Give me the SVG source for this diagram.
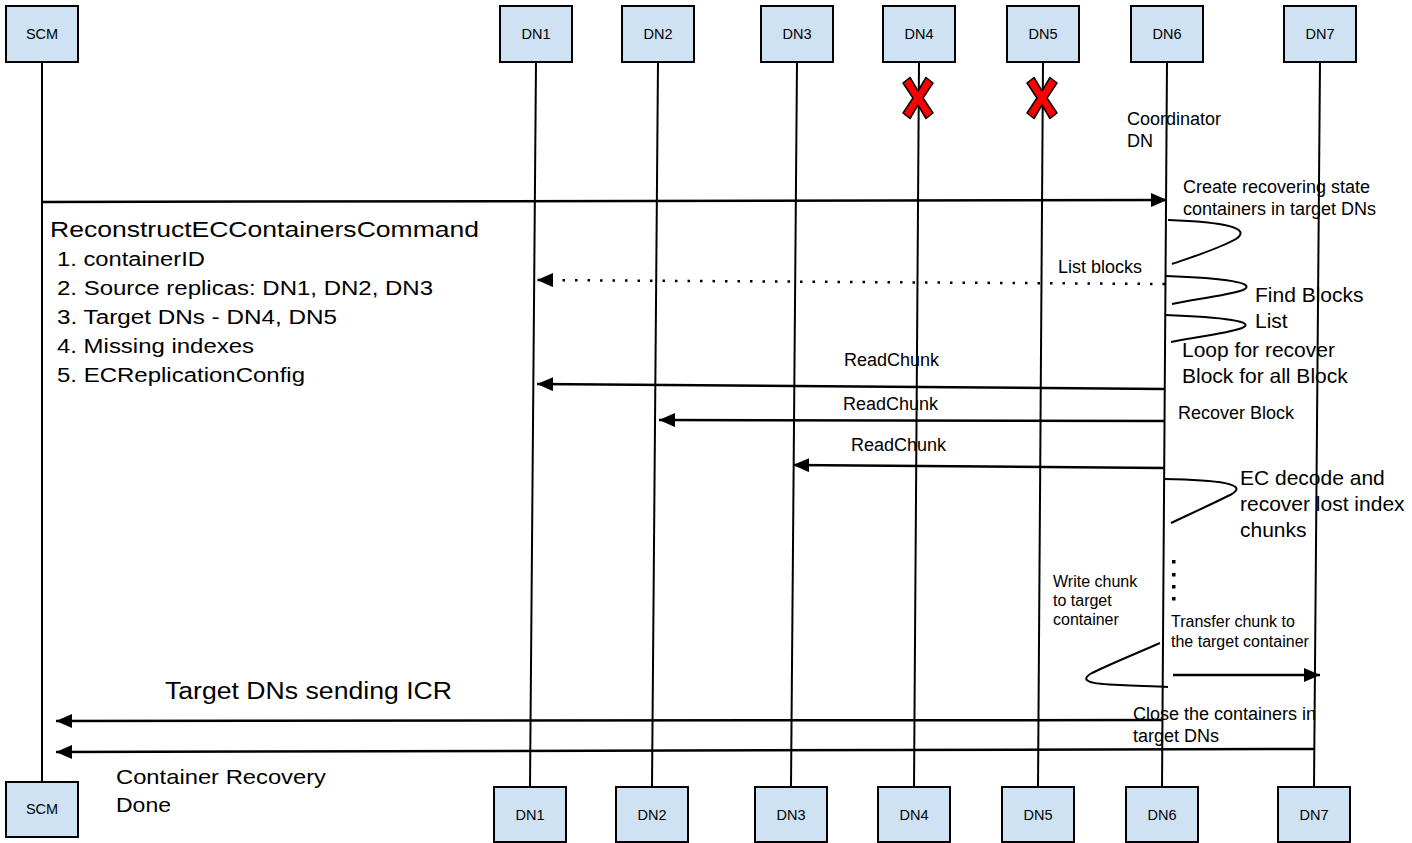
<svg xmlns="http://www.w3.org/2000/svg" width="1412" height="843" viewBox="0 0 1412 843">
  <style>
    .box { fill: #cfe2f3; stroke: #000; stroke-width: 2; }
    .life { stroke: #000; stroke-width: 2; fill: none; }
    .name { font-family: "Liberation Sans", Arial, sans-serif; font-size: 14.5px; fill: #000; text-anchor: middle; }
    .msg { stroke: #000; stroke-width: 2.5; fill: none; marker-end: url(#ah); }
    .dot { stroke-dasharray: 2.5 10; }
    .loop { stroke: #000; stroke-width: 2; fill: none; }
    .t { font-family: "Liberation Sans", Arial, sans-serif; fill: #000; }
    .s16 { font-size: 16px; }
    .s18 { font-size: 18px; }
    .s21 { font-size: 21px; }
    .cross { fill: #ff0000; stroke: #000; stroke-width: 1.5; stroke-linejoin: round; }
  </style>
  <defs>
    <marker id="ah" viewBox="0 0 16 14" refX="16" refY="7" markerWidth="16" markerHeight="14" markerUnits="userSpaceOnUse" orient="auto">
      <path d="M0,0 L16,7 L0,14 z" fill="#000"/>
    </marker>
    <polygon id="xmark" class="cross" points="-15,-15 -8,-20.5 0,-7 8,-20.5 15,-15 5,0 15,15 8,20.5 0,7 -8,20.5 -15,15 -5,0"/>
  </defs>

  <rect width="1412" height="843" fill="#fff"/>

  <!-- participants: head box, lifeline, foot box -->
  <g id="scm">
    <line class="life" x1="42" y1="62" x2="42" y2="782"/>
    <rect class="box" x="6" y="6" width="72" height="56"/>
    <text class="name" x="42" y="39">SCM</text>
    <rect class="box" x="6" y="782" width="72" height="55"/>
    <text class="name" x="42" y="814">SCM</text>
  </g>
  <g id="dn1">
    <line class="life" x1="536" y1="62" x2="530" y2="787"/>
    <rect class="box" x="500" y="6" width="72" height="56"/>
    <text class="name" x="536" y="39">DN1</text>
    <rect class="box" x="494" y="787" width="72" height="55"/>
    <text class="name" x="530" y="820">DN1</text>
  </g>
  <g id="dn2">
    <line class="life" x1="658" y1="62" x2="652" y2="787"/>
    <rect class="box" x="622" y="6" width="72" height="56"/>
    <text class="name" x="658" y="39">DN2</text>
    <rect class="box" x="616" y="787" width="72" height="55"/>
    <text class="name" x="652" y="820">DN2</text>
  </g>
  <g id="dn3">
    <line class="life" x1="797" y1="62" x2="791" y2="787"/>
    <rect class="box" x="761" y="6" width="72" height="56"/>
    <text class="name" x="797" y="39">DN3</text>
    <rect class="box" x="755" y="787" width="72" height="55"/>
    <text class="name" x="791" y="820">DN3</text>
  </g>
  <g id="dn4">
    <line class="life" x1="919" y1="62" x2="914" y2="787"/>
    <rect class="box" x="883" y="6" width="72" height="56"/>
    <text class="name" x="919" y="39">DN4</text>
    <use href="#xmark" x="918" y="98"/>
    <rect class="box" x="878" y="787" width="72" height="55"/>
    <text class="name" x="914" y="820">DN4</text>
  </g>
  <g id="dn5">
    <line class="life" x1="1043" y1="62" x2="1038" y2="787"/>
    <rect class="box" x="1007" y="6" width="72" height="56"/>
    <text class="name" x="1043" y="39">DN5</text>
    <use href="#xmark" x="1042" y="98"/>
    <rect class="box" x="1002" y="787" width="72" height="55"/>
    <text class="name" x="1038" y="820">DN5</text>
  </g>
  <g id="dn6">
    <line class="life" x1="1167" y1="62" x2="1162" y2="787"/>
    <rect class="box" x="1131" y="6" width="72" height="56"/>
    <text class="name" x="1167" y="39">DN6</text>
    <rect class="box" x="1126" y="787" width="72" height="55"/>
    <text class="name" x="1162" y="820">DN6</text>
  </g>
  <g id="dn7">
    <line class="life" x1="1320" y1="62" x2="1314" y2="787"/>
    <rect class="box" x="1284" y="6" width="72" height="56"/>
    <text class="name" x="1320" y="39">DN7</text>
    <rect class="box" x="1278" y="787" width="72" height="55"/>
    <text class="name" x="1314" y="820">DN7</text>
  </g>

  <!-- messages and self-calls -->
  <g id="connectors">
    <line class="msg" x1="42" y1="202" x2="1167" y2="200"/>
    <line class="msg dot" x1="1165" y1="284" x2="537" y2="280"/>
    <line class="msg" x1="1164" y1="389" x2="537" y2="384"/>
    <line class="msg" x1="1164" y1="421" x2="659" y2="420"/>
    <line class="msg" x1="1164" y1="468" x2="793" y2="465"/>
    <line class="msg" x1="1173" y1="675" x2="1320" y2="675"/>
    <line class="msg" x1="1163" y1="720" x2="56" y2="721"/>
    <line class="msg" x1="1315" y1="749" x2="56" y2="752"/>

    <path class="loop" d="M1168,220 C1225,222 1252,228 1236,239 C1218,249 1195,256 1172,264"/>
    <path class="loop" d="M1166,276 C1225,278 1258,283 1243,290 C1225,296 1195,299 1172,304"/>
    <path class="loop" d="M1165,315 C1225,317 1257,322 1242,328 C1225,334 1195,337 1171,342"/>
    <path class="loop" d="M1164,479 C1220,480 1248,484 1232,494 C1210,505 1190,514 1171,523"/>
    <path class="loop" d="M1160,643 C1135,654 1110,664 1092,673 C1078,681 1090,684 1120,685 C1140,686 1155,686 1168,687"/>

    <g fill="#000">
      <rect x="1172" y="560" width="3.5" height="3.5"/>
      <rect x="1172" y="573" width="3.5" height="3.5"/>
      <rect x="1172" y="585" width="3.5" height="3.5"/>
      <rect x="1172" y="597" width="3.5" height="3.5"/>
    </g>
  </g>

  <!-- labels -->
  <g id="labels">
    <text class="t" x="50" y="237" font-size="22" textLength="429" lengthAdjust="spacingAndGlyphs">ReconstructECContainersCommand</text>
    <text class="t" x="57" y="266" font-size="19.5" textLength="148" lengthAdjust="spacingAndGlyphs">1. containerID</text>
    <text class="t" x="57" y="295" font-size="19.5" textLength="376" lengthAdjust="spacingAndGlyphs">2. Source replicas: DN1, DN2, DN3</text>
    <text class="t" x="57" y="324" font-size="19.5" textLength="280" lengthAdjust="spacingAndGlyphs">3. Target DNs - DN4, DN5</text>
    <text class="t" x="57" y="353" font-size="19.5" textLength="197" lengthAdjust="spacingAndGlyphs">4. Missing indexes</text>
    <text class="t" x="57" y="382" font-size="19.5" textLength="248" lengthAdjust="spacingAndGlyphs">5. ECReplicationConfig</text>

    <text class="t s18" x="1127" y="125">Coordinator</text>
    <text class="t s18" x="1127" y="147">DN</text>

    <text class="t s18" x="1183" y="193">Create recovering state</text>
    <text class="t s18" x="1183" y="215">containers in target DNs</text>

    <text class="t s18" x="1058" y="273">List blocks</text>
    <text class="t s21" x="1255" y="302">Find Blocks</text>
    <text class="t s21" x="1255" y="328">List</text>
    <text class="t s21" x="1182" y="357">Loop for recover</text>
    <text class="t s21" x="1182" y="383">Block for all Block</text>

    <text class="t s18" x="844" y="366">ReadChunk</text>
    <text class="t s18" x="843" y="410">ReadChunk</text>
    <text class="t s18" x="851" y="451">ReadChunk</text>
    <text class="t s18" x="1178" y="419">Recover Block</text>

    <text class="t s21" x="1240" y="485">EC decode and</text>
    <text class="t s21" x="1240" y="511">recover lost index</text>
    <text class="t s21" x="1240" y="537">chunks</text>

    <text class="t s16" x="1053" y="587">Write chunk</text>
    <text class="t s16" x="1053" y="606">to target</text>
    <text class="t s16" x="1053" y="625">container</text>
    <text class="t s16" x="1171" y="627">Transfer chunk to</text>
    <text class="t s16" x="1171" y="647">the target container</text>

    <text class="t" x="165" y="699" font-size="23" textLength="287" lengthAdjust="spacingAndGlyphs">Target DNs sending ICR</text>
    <text class="t s18" x="1133" y="720">Close the containers in</text>
    <text class="t s18" x="1133" y="742">target DNs</text>
    <text class="t" x="116" y="784" font-size="21" textLength="210" lengthAdjust="spacingAndGlyphs">Container Recovery</text>
    <text class="t" x="116" y="812" font-size="21" textLength="55" lengthAdjust="spacingAndGlyphs">Done</text>
  </g>
</svg>
